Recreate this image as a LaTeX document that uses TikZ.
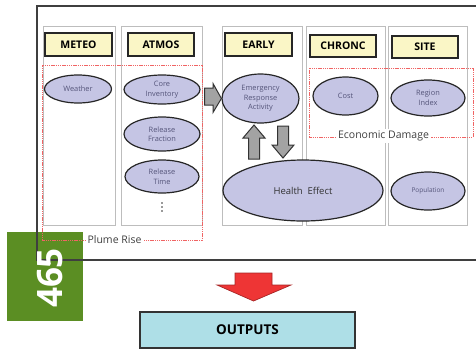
\documentclass[tikz,border=0pt]{standalone}
\usepackage{fontspec}
\setmainfont{Open Sans}
\usetikzlibrary{shapes.geometric}
\definecolor{hdrfill}{HTML}{FAF6C6}
\definecolor{ellfill}{HTML}{C5C5E4}
\definecolor{elltext}{HTML}{55557A}
\definecolor{colline}{HTML}{BDBDBD}
\definecolor{arrgray}{HTML}{A3A3A3}
\definecolor{dashred}{HTML}{F06464}
\definecolor{leafgreen}{HTML}{5B8E23}
\definecolor{outfill}{HTML}{AEDFE7}
\definecolor{redarrow}{HTML}{EE3535}
\definecolor{frameline}{HTML}{3F3F3F}
\tikzset{
  col/.style={draw=colline, line width=0.9pt},
  hdr/.style={draw=black!85, fill=hdrfill, line width=1.3pt, font=\bfseries\fontsize{10.5}{13}\selectfont, inner sep=0pt},
  ell/.style={ellipse, draw=black!85, fill=ellfill, line width=1.2pt, inner sep=0pt, align=center, text=elltext, font=\fontsize{7.4}{9.5}\selectfont},
  reddash/.style={draw=dashred, line width=0.8pt, dash pattern=on 1.4pt off 0.8pt},
  grayarr/.style={draw=black!80, fill=arrgray, line width=1pt, line join=miter},
  lbl/.style={fill=white, inner sep=2pt, text=black!75, font=\fontsize{10.5}{12}\selectfont}
}
\begin{document}
\begin{tikzpicture}[x=1pt, y=-1pt]
\useasboundingbox (0,0) rectangle (476,349);
% green tab
\node[fill=leafgreen, minimum width=76pt, minimum height=89pt, inner sep=0pt] (tab) at (45,276.5) {};
% outer frame
\draw[frameline, line width=1.6pt] (485,6) -- (37,6) -- (37,260) -- (485,260);
% columns
\draw[col] (43,26) rectangle (115,225);
\draw[col] (121,26) rectangle (202,225);
\draw[col] (222,26) rectangle (302,225);
\draw[col] (306,26) rectangle (385,225);
\draw[col] (388,26) rectangle (467,225);
% headers
\node[hdr, minimum width=67pt, minimum height=23pt] (meteo) at (78.5,44.5) {METEO};
\node[hdr, minimum width=66pt, minimum height=23pt] (atmos) at (161,44.5) {ATMOS};
\node[hdr, minimum width=67pt, minimum height=23pt] (early) at (258.5,44.5) {EARLY};
\node[hdr, minimum width=66pt, minimum height=22pt] (chronc) at (343,46) {CHRONC};
\node[hdr, minimum width=66pt, minimum height=22pt] (site) at (425,47) {SITE};
% dashed regions
\draw[reddash] (113,240) -- (42,240) -- (42,65) -- (202,65) -- (202,240) -- cycle;
\node[lbl] (plume) at (114.5,240) {Plume Rise};
\draw[reddash] (309,68) rectangle (473,137);
\node[lbl] (econ) at (383.5,136) {Economic Damage};
% ellipses
\node[ell, minimum width=67pt, minimum height=28pt] (weather) at (78,89) {Weather};
\node[ell, minimum width=76pt, minimum height=29pt] (core) at (162,89.5) {Core\\Inventory};
\node[ell, minimum width=76pt, minimum height=34pt] (frac) at (162,134) {Release\\Fraction};
\node[ell, minimum width=74pt, minimum height=33pt] (rtime) at (162,176.5) {Release\\Time};
\coordinate (dots) at (162,207);
\foreach \d in {-4,0,4} \fill[black!80] ([yshift=\d pt]dots) circle (0.9pt);
\node[ell, minimum width=77pt, minimum height=49pt] (era) at (260.5,98.5) {Emergency\\Response\\Activity};
\node[ell, minimum width=65pt, minimum height=38pt] (cost) at (345.5,96) {Cost};
\node[ell, minimum width=74pt, minimum height=36pt] (region) at (428,98) {Region\\Index};
\node[ell, minimum width=160pt, minimum height=61pt, text=black!80, font=\fontsize{9.5}{11}\selectfont] (health) at (303,190.5) {Health\enspace Effect};
\node[ell, minimum width=74pt, minimum height=38pt, font=\fontsize{6.5}{8}\selectfont] (pop) at (428,191) {Population};
% gray block arrows
\draw[grayarr] (204.5,88) -- (213,88) -- (213,83.5) -- (era.west) -- (213,112.5) -- (213,105) -- (204.5,105) -- cycle;
\draw[grayarr] (248.5,159) -- (248.5,138) -- (243,138) -- (254,125) -- (265,138) -- (259.5,138) -- (259.5,159) -- cycle;
\draw[grayarr] (277.5,126) -- (288.5,126) -- (288.5,145) -- (294,145) -- (283,158) -- (272,145) -- (277.5,145) -- cycle;
% 465 label
\node[rotate=90, text=white, font=\bfseries\fontsize{35}{35}\selectfont, inner sep=0pt] (num) at (50.5,278) {465};
% red arrow
\draw[redarrow!70!black, fill=redarrow, line width=0.7pt] (235,273) -- (272,273) -- (272,285) -- (291,285) -- (253.5,301) -- (217,285) -- (235,285) -- cycle;
% outputs
\node[draw=black!80, fill=outfill, line width=1.3pt, minimum width=215pt, minimum height=36pt, inner sep=0pt, font=\bfseries\fontsize{13.5}{15}\selectfont] (out) at (247.5,330) {OUTPUTS};
\end{tikzpicture}
\end{document}
